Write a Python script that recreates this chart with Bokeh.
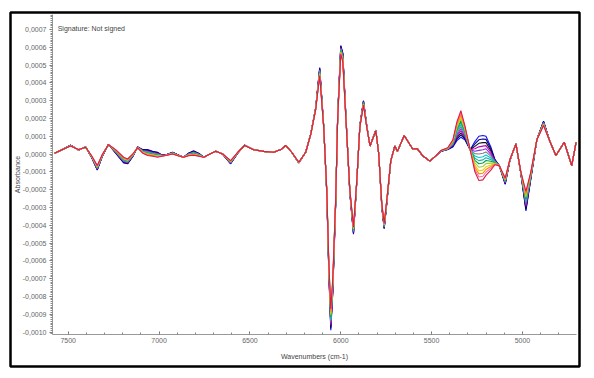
import numpy as np
from bokeh.plotting import figure
from bokeh.models import FixedTicker, CustomJSTickFormatter, Label, Range1d
from bokeh.embed import file_html
from bokeh.resources import INLINE

# wavenumbers (cm-1)
wavenumbers = [7575, 7531, 7487, 7443, 7404, 7371, 7340, 7311, 7278, 7239, 7195, 7173, 7145, 7118,
               7090, 7063, 7035, 7008, 6985, 6964, 6925, 6895, 6865, 6838, 6810, 6782, 6754, 6720,
               6688, 6650, 6606, 6567, 6529, 6479, 6424, 6369, 6330, 6303, 6270, 6231, 6193, 6165,
               6138, 6116, 6094, 6077, 6066, 6055, 6044, 6028, 6017, 6000, 5989, 5972, 5950, 5930,
               5912, 5895, 5875, 5857, 5839, 5807, 5791, 5774, 5761, 5746, 5725, 5703, 5688, 5651,
               5605, 5578, 5549, 5510, 5477, 5449, 5411, 5383, 5361, 5339, 5317, 5288, 5262, 5240,
               5218, 5201, 5174, 5152, 5128, 5095, 5069, 5036, 5009, 4981, 4954, 4921, 4884, 4849,
               4816, 4770, 4729, 4705]

# absorbance x 1e-4, first extreme spectrum (red)
abs_red = [0.05, 0.25, 0.45, 0.25, 0.38, -0.1, -0.65, 0.0, 0.53, 0.25, -0.18, -0.28, 0.0, 0.35,
           0.05, -0.08, -0.12, -0.18, -0.12, -0.08, 0.0, -0.1, -0.18, -0.1, -0.07, -0.12, -0.18, 0.0,
           0.16, 0.0, -0.37, 0.1, 0.48, 0.24, 0.15, 0.1, 0.25, 0.48, 0.1, -0.46, 0.1, 1.1,
           2.5, 4.4, 1.5, -2.0, -6.0, -8.7, -7.0, -2.5, 2.0, 5.6, 5.2, 2.0, -2.0, -4.1,
           -1.5, 1.5, 2.75, 1.5, 0.45, 1.3, 0.0, -2.8, -3.9, -2.5, -0.4, 0.45, 0.15, 1.04,
           0.3, 0.29, -0.1, -0.4, -0.1, 0.2, 0.35, 0.8, 1.8, 2.44, 1.6, 0.24, -1.0, -1.49,
           -1.45, -1.2, -0.9, -0.6, -0.65, -1.35, -0.3, 0.57, -1.0, -2.1, -1.0, 0.8, 1.6, 0.7,
           -0.08, 0.66, -0.65, 0.66]

# absorbance x 1e-4, other extreme spectrum (blue)
abs_blue = [0.05, 0.25, 0.5, 0.22, 0.4, -0.2, -0.9, -0.1, 0.55, 0.05, -0.5, -0.55, -0.15, 0.4,
            0.25, 0.25, 0.15, 0.1, -0.05, -0.05, 0.1, -0.05, -0.18, 0.05, 0.18, 0.05, -0.18, 0.0,
            0.16, 0.0, -0.55, 0.05, 0.5, 0.24, 0.15, 0.1, 0.25, 0.48, 0.1, -0.5, 0.1, 1.15,
            2.6, 4.86, 1.6, -2.2, -6.6, -9.9, -7.8, -2.8, 2.2, 6.1, 5.7, 2.2, -2.2, -4.5,
            -1.6, 1.6, 3.0, 1.6, 0.45, 1.35, 0.0, -3.0, -4.2, -2.7, -0.4, 0.45, 0.15, 1.04,
            0.3, 0.29, -0.1, -0.4, -0.1, 0.15, 0.25, 0.4, 0.75, 0.94, 0.8, 0.24, 0.7, 1.0,
            1.04, 1.0, 0.4, -0.3, -0.65, -1.7, -0.35, 0.57, -1.1, -3.2, -1.4, 0.8, 1.85, 0.7,
            -0.08, 0.66, -0.65, 0.66]

# share of the blue extreme in each sample spectrum, and its colour
series_mix = [1.0, 0.92, 0.84, 0.76, 0.68, 0.6, 0.52, 0.45, 0.38, 0.3, 0.22, 0.15, 0.08, 0.0]
series_colors = ["#1010ff", "#000080", "#101010", "#c000c0", "#8a2be2", "#808080", "#00c8d8",
                 "#20b2aa", "#00a040", "#9acd32", "#e6d000", "#ff8c00", "#ff69b4", "#dc1e3c"]

x_ticks = [5000, 5500, 6000, 6500, 7000, 7500]
y_ticks = [-0.0010, -0.0009, -0.0008, -0.0007, -0.0006, -0.0005, -0.0004, -0.0003, -0.0002,
           -0.0001, 0.0, 0.0001, 0.0002, 0.0003, 0.0004, 0.0005, 0.0006, 0.0007]

# axis extents (data units)
x_axis_start, x_axis_end = 7586.4, 4702.7
y_axis_low, y_axis_high = -0.001014, 0.000784

FONT = "Liberation Sans"

# the figure's frame is the black outer box; axes sit at fixed data positions inside it
p = figure(width=594, height=378, output_backend="svg", toolbar_location=None,
           x_range=Range1d(7817.6, 4686.2), y_range=Range1d(-0.0011938, 0.0007952),
           min_border_left=10, min_border_right=15, min_border_top=12, min_border_bottom=12)
p.outline_line_color = "black"
p.outline_line_width = 2.5
p.xgrid.visible = False
p.ygrid.visible = False
p.background_fill_color = "white"
p.border_fill_color = "white"

wn = np.array(wavenumbers, dtype=float)
a = np.array(abs_red) * 1e-4
b = np.array(abs_blue) * 1e-4
for m, c in zip(series_mix, series_colors):
    p.line(wn, a + m * (b - a), line_color=c, line_width=1.1)

p.xaxis.fixed_location = y_axis_low
p.xaxis.bounds = (x_axis_end, x_axis_start)
p.yaxis.fixed_location = x_axis_start
p.yaxis.bounds = (y_axis_low, y_axis_high)

p.xaxis.ticker = FixedTicker(ticks=x_ticks, minor_ticks=list(range(4800, 7600, 100)))
p.yaxis.ticker = FixedTicker(ticks=y_ticks, minor_ticks=[i * 1e-5 for i in range(-101, 79)])
p.yaxis.formatter = CustomJSTickFormatter(code="""
    if (Math.abs(tick) < 1e-9) { return '0,0000'; }
    return tick.toFixed(4).replace('.', ',');
""")

for ax in (p.xaxis, p.yaxis):
    ax.axis_line_color = "#999999"
    ax.major_tick_line_color = "#666666"
    ax.minor_tick_line_color = "#888888"
    ax.major_label_text_font = FONT
    ax.major_label_text_font_size = "7px"
    ax.major_label_text_color = "#666666"
    ax.axis_label_text_font = FONT
    ax.axis_label_text_font_size = "7px"
    ax.axis_label_text_color = "#444444"
    ax.axis_label_text_font_style = "normal"

p.xaxis.major_tick_in = 3
p.xaxis.major_tick_out = 0
p.xaxis.minor_tick_in = 2
p.xaxis.minor_tick_out = 0
p.xaxis.major_label_standoff = 4
p.xaxis.axis_label = "Wavenumbers (cm-1)"
p.xaxis.axis_label_standoff = 6

p.yaxis.major_tick_in = 0
p.yaxis.major_tick_out = 3
p.yaxis.minor_tick_in = 0
p.yaxis.minor_tick_out = 2
p.yaxis.major_label_standoff = 3
p.yaxis.axis_label = "Absorbance"
p.yaxis.axis_label_standoff = -1

p.add_layout(Label(x=7558, y=0.000705, text="Signature: Not signed", text_font=FONT,
                   text_font_size="7px", text_color="#444444", text_baseline="middle"))

open("out.html", "w").write(file_html(p, INLINE))
